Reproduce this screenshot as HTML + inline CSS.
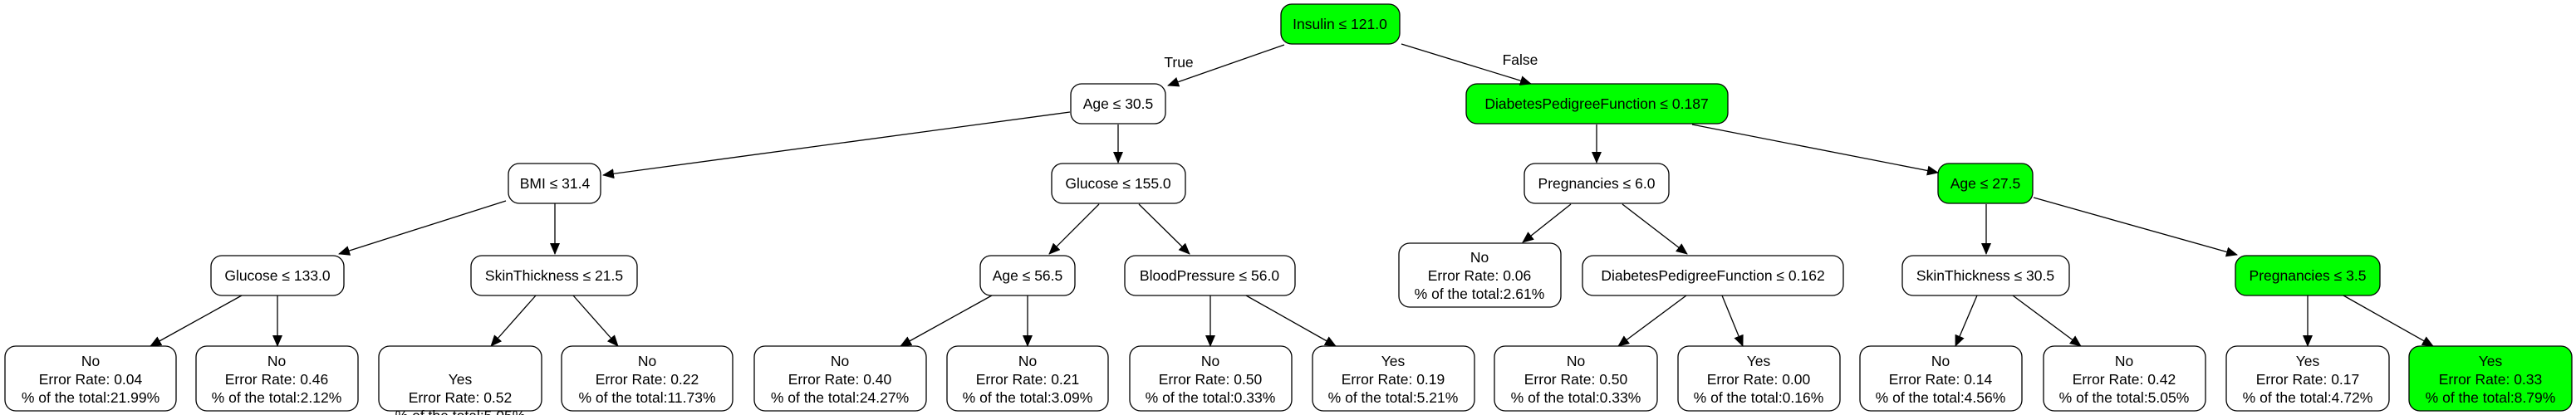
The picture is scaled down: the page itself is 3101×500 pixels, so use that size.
<!DOCTYPE html>
<html><head><meta charset="utf-8"><style>
html,body{margin:0;padding:0;background:#fff;}
svg{display:block;}
text{font-family:"Liberation Sans",Arial,sans-serif;font-size:17.5px;fill:#000;text-anchor:middle;}
rect{stroke:#000;stroke-width:1.3;}
line{stroke:#000;stroke-width:1.3;}
</style></head><body>
<svg width="3101" height="500" viewBox="0 0 3101 500" xmlns="http://www.w3.org/2000/svg">
<defs><marker id="a" markerUnits="userSpaceOnUse" markerWidth="14" markerHeight="12" refX="13" refY="6" orient="auto"><path d="M0,0 L14,6 L0,12 z" fill="#000"/></marker></defs>
<g fill="#fff">
<!-- decision nodes -->
<rect x="1542" y="5" width="143" height="48" rx="13" fill="#00ff00"/>
<rect x="1289" y="101" width="114" height="48" rx="13" fill="#fff"/>
<rect x="1765" y="101" width="315" height="48" rx="13" fill="#00ff00"/>
<rect x="612" y="197" width="111" height="48" rx="13" fill="#fff"/>
<rect x="1266" y="197" width="161" height="48" rx="13" fill="#fff"/>
<rect x="1835" y="197" width="174" height="48" rx="13" fill="#fff"/>
<rect x="2333" y="197" width="114" height="48" rx="13" fill="#00ff00"/>
<rect x="254" y="308" width="160" height="48" rx="13" fill="#fff"/>
<rect x="567" y="308" width="200" height="48" rx="13" fill="#fff"/>
<rect x="1180" y="308" width="114" height="48" rx="13" fill="#fff"/>
<rect x="1354" y="308" width="205" height="48" rx="13" fill="#fff"/>
<rect x="1905" y="308" width="314" height="48" rx="13" fill="#fff"/>
<rect x="2290" y="308" width="201" height="48" rx="13" fill="#fff"/>
<rect x="2691" y="308" width="174" height="48" rx="13" fill="#00ff00"/>
<rect x="1684" y="293" width="195" height="77" rx="13" fill="#fff"/>
<!-- leaves -->
<rect x="6" y="417" width="206" height="78" rx="13" fill="#fff"/>
<rect x="236" y="417" width="195" height="78" rx="13" fill="#fff"/>
<rect x="456" y="417" width="196" height="78" rx="13" fill="#fff"/>
<rect x="676" y="417" width="206" height="78" rx="13" fill="#fff"/>
<rect x="908" y="417" width="207" height="78" rx="13" fill="#fff"/>
<rect x="1140" y="417" width="194" height="78" rx="13" fill="#fff"/>
<rect x="1360" y="417" width="195" height="78" rx="13" fill="#fff"/>
<rect x="1580" y="417" width="195" height="78" rx="13" fill="#fff"/>
<rect x="1799" y="417" width="196" height="78" rx="13" fill="#fff"/>
<rect x="2020" y="417" width="195" height="78" rx="13" fill="#fff"/>
<rect x="2239" y="417" width="195" height="78" rx="13" fill="#fff"/>
<rect x="2460" y="417" width="195" height="78" rx="13" fill="#fff"/>
<rect x="2680" y="417" width="196" height="78" rx="13" fill="#fff"/>
<rect x="2900" y="417" width="196" height="78" rx="13" fill="#00ff00"/>
</g>
<g marker-end="url(#a)">
<line x1="1546" y1="54" x2="1406" y2="103"/>
<line x1="1687" y1="53" x2="1843" y2="101"/>
<line x1="1288" y1="135" x2="726" y2="211"/>
<line x1="1346" y1="150" x2="1346" y2="196"/>
<line x1="1922" y1="150" x2="1922" y2="196"/>
<line x1="2037" y1="150" x2="2333" y2="208"/>
<line x1="609" y1="242" x2="408" y2="306"/>
<line x1="668" y1="245" x2="668" y2="306"/>
<line x1="1323" y1="246" x2="1263" y2="306"/>
<line x1="1371" y1="246" x2="1432" y2="306"/>
<line x1="1891" y1="246" x2="1833" y2="292"/>
<line x1="1953" y1="246" x2="2031" y2="306"/>
<line x1="2391" y1="246" x2="2391" y2="306"/>
<line x1="2448" y1="238" x2="2693" y2="307"/>
<line x1="291" y1="356" x2="181" y2="417"/>
<line x1="334" y1="356" x2="334" y2="417"/>
<line x1="645" y1="356" x2="591" y2="417"/>
<line x1="690" y1="356" x2="744" y2="417"/>
<line x1="1194" y1="356" x2="1084" y2="417"/>
<line x1="1237" y1="356" x2="1237" y2="417"/>
<line x1="1457" y1="356" x2="1457" y2="417"/>
<line x1="1500" y1="356" x2="1608" y2="417"/>
<line x1="2030" y1="356" x2="1948" y2="417"/>
<line x1="2073" y1="356" x2="2098" y2="417"/>
<line x1="2380" y1="356" x2="2354" y2="417"/>
<line x1="2423" y1="356" x2="2505" y2="417"/>
<line x1="2778" y1="356" x2="2778" y2="417"/>
<line x1="2821" y1="356" x2="2929" y2="417"/>
</g>
<text x="1419" y="81">True</text>
<text x="1830" y="78">False</text>
<text x="1613" y="35">Insulin ≤ 121.0</text>
<text x="1346" y="131">Age ≤ 30.5</text>
<text x="1922" y="131">DiabetesPedigreeFunction ≤ 0.187</text>
<text x="668" y="227">BMI ≤ 31.4</text>
<text x="1346" y="227">Glucose ≤ 155.0</text>
<text x="1922" y="227">Pregnancies ≤ 6.0</text>
<text x="2390" y="227">Age ≤ 27.5</text>
<text x="334" y="338">Glucose ≤ 133.0</text>
<text x="667" y="338">SkinThickness ≤ 21.5</text>
<text x="1237" y="338">Age ≤ 56.5</text>
<text x="1456" y="338">BloodPressure ≤ 56.0</text>
<text x="2062" y="338">DiabetesPedigreeFunction ≤ 0.162</text>
<text x="2390" y="338">SkinThickness ≤ 30.5</text>
<text x="2778" y="338">Pregnancies ≤ 3.5</text>
<g>
<text x="1781" y="316">No</text><text x="1781" y="338">Error Rate: 0.06</text><text x="1781" y="360">% of the total:2.61%</text>
<text x="109" y="441">No</text><text x="109" y="463">Error Rate: 0.04</text><text x="109" y="485">% of the total:21.99%</text>
<text x="333" y="441">No</text><text x="333" y="463">Error Rate: 0.46</text><text x="333" y="485">% of the total:2.12%</text>
<text x="554" y="463">Yes</text><text x="554" y="485">Error Rate: 0.52</text><text x="554" y="507">% of the total:5.05%</text>
<text x="779" y="441">No</text><text x="779" y="463">Error Rate: 0.22</text><text x="779" y="485">% of the total:11.73%</text>
<text x="1011" y="441">No</text><text x="1011" y="463">Error Rate: 0.40</text><text x="1011" y="485">% of the total:24.27%</text>
<text x="1237" y="441">No</text><text x="1237" y="463">Error Rate: 0.21</text><text x="1237" y="485">% of the total:3.09%</text>
<text x="1457" y="441">No</text><text x="1457" y="463">Error Rate: 0.50</text><text x="1457" y="485">% of the total:0.33%</text>
<text x="1677" y="441">Yes</text><text x="1677" y="463">Error Rate: 0.19</text><text x="1677" y="485">% of the total:5.21%</text>
<text x="1897" y="441">No</text><text x="1897" y="463">Error Rate: 0.50</text><text x="1897" y="485">% of the total:0.33%</text>
<text x="2117" y="441">Yes</text><text x="2117" y="463">Error Rate: 0.00</text><text x="2117" y="485">% of the total:0.16%</text>
<text x="2336" y="441">No</text><text x="2336" y="463">Error Rate: 0.14</text><text x="2336" y="485">% of the total:4.56%</text>
<text x="2557" y="441">No</text><text x="2557" y="463">Error Rate: 0.42</text><text x="2557" y="485">% of the total:5.05%</text>
<text x="2778" y="441">Yes</text><text x="2778" y="463">Error Rate: 0.17</text><text x="2778" y="485">% of the total:4.72%</text>
<text x="2998" y="441">Yes</text><text x="2998" y="463">Error Rate: 0.33</text><text x="2998" y="485">% of the total:8.79%</text>
</g>
</svg>
</body></html>
